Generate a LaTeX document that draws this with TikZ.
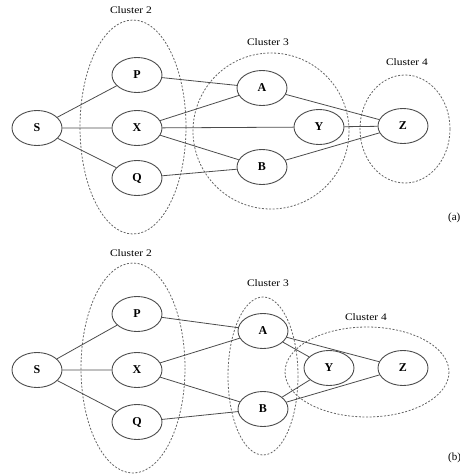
\documentclass[tikz,border=0pt]{standalone}
\usepackage{fontspec}
\setmainfont{Liberation Serif}
\usetikzlibrary{shapes.geometric}
\begin{document}
\begin{tikzpicture}[x=1pt,y=-1pt,
  vtx/.style={ellipse,draw=black!70,line width=0.9pt,minimum width=50pt,minimum height=35pt,inner sep=0pt,font=\fontsize{12}{12}\selectfont\bfseries},
  edge/.style={draw=black!70,line width=0.8pt},
  clus/.style={draw=black!60,line width=0.8pt,dash pattern=on 2pt off 1.6pt},
  clab/.style={font=\fontsize{10}{10}\selectfont,inner sep=0pt,xscale=1.15},
  sub/.style={font=\fontsize{11}{11}\selectfont,inner sep=0pt,anchor=west}]
\useasboundingbox (0,0) rectangle (460,475);
% ---------- (a) ----------
\node[vtx] (aS) at (37,128) {S};
\node[vtx] (aP) at (137,75) {P};
\node[vtx] (aX) at (137,128) {X};
\node[vtx] (aQ) at (137,178) {Q};
\node[vtx] (aA) at (262,88) {A};
\node[vtx] (aY) at (319,127) {Y};
\node[vtx] (aB) at (262,167) {B};
\node[vtx] (aZ) at (403,126) {Z};
\draw[clus] (133,127) ellipse (53 and 107);
\draw[clus] (271,131) ellipse (78 and 78);
\draw[clus] (405,129) ellipse (45 and 54);
\node[clab] (aL2) at (131,10) {Cluster 2};
\node[clab] (aL3) at (268,42) {Cluster 3};
\node[clab] (aL4) at (407,62) {Cluster 4};
\node[sub] (alab) at (448,218) {(a)};
\path[edge] (aS) -- (aP) (aS) -- (aX) (aS) -- (aQ)
  (aP) -- (aA) (aX) -- (aA) (aX) -- (aY) (aX) -- (aB) (aQ) -- (aB)
  (aA) -- (aZ) (aY) -- (aZ) (aB) -- (aZ);
% ---------- (b) ----------
\node[vtx] (bS) at (37,370) {S};
\node[vtx] (bP) at (137,314) {P};
\node[vtx] (bX) at (137,370) {X};
\node[vtx] (bQ) at (137,422) {Q};
\node[vtx] (bA) at (263,331) {A};
\node[vtx] (bY) at (329,368) {Y};
\node[vtx] (bB) at (263,409) {B};
\node[vtx] (bZ) at (403,368) {Z};
\draw[clus] (133,368) ellipse (52 and 105);
\draw[clus] (263,376) ellipse (35 and 79);
\draw[clus] (367,372) ellipse (82 and 45);
\node[clab] (bL2) at (131,253) {Cluster 2};
\node[clab] (bL3) at (268,283) {Cluster 3};
\node[clab] (bL4) at (366,317) {Cluster 4};
\node[sub] (blab) at (448,458) {(b)};
\path[edge] (bS) -- (bP) (bS) -- (bX) (bS) -- (bQ)
  (bP) -- (bA) (bX) -- (bA) (bX) -- (bB) (bQ) -- (bB)
  (bA) -- (bY) (bA) -- (bZ) (bB) -- (bY) (bB) -- (bZ);
\end{tikzpicture}
\end{document}
